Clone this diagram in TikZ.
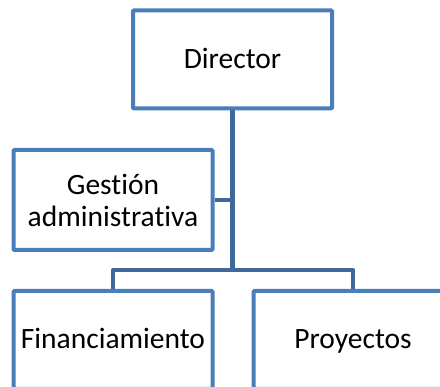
\documentclass[tikz,border=0pt]{standalone}
\usepackage{fontspec}
\setmainfont{Carlito}[RawFeature={-liga}]
\definecolor{boxblue}{RGB}{74,126,187}
\definecolor{linkblue}{RGB}{65,104,156}
\begin{document}
\begin{tikzpicture}[x=1pt,y=-1pt,
  orgbox/.style={draw=boxblue,line width=4pt,fill=white,rounded corners=1pt,
    minimum width=199pt,minimum height=98pt,inner sep=2pt,align=center,
    font=\fontsize{29.5}{32}\selectfont},
  oneline/.style={text height=24pt,text depth=6pt},
  link/.style={draw=linkblue,line width=4.5pt}]
\clip (0,0) rectangle (440,387);
\useasboundingbox (0,0) rectangle (440,387);
\node[orgbox,oneline] (dir) at (232.5,59.5) {Director};
\node[orgbox,minimum height=100pt] (ges) at (113,200) {Gestión\\administrativa};
\node[orgbox,oneline] (fin) at (113,340) {Financiamiento};
\node[orgbox,oneline] (pro) at (353,340) {Proyectos};
\coordinate (bus) at (233,270);
\draw[link] (dir.south) -- (dir.south |- bus);
\draw[link] (ges.east) -- (ges.east -| dir.south);
\draw[link,line join=round] (fin.north) -- (fin.north |- bus) -- (pro.north |- bus) -- (pro.north);
\end{tikzpicture}
\end{document}
